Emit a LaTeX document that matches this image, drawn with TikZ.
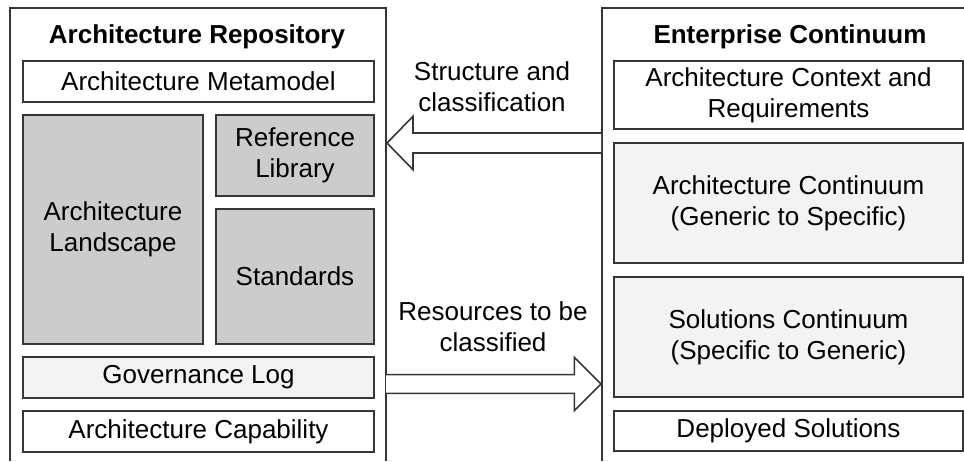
\documentclass[tikz,border=0pt]{standalone}
\usepackage{fontspec}
\setmainfont{Liberation Sans}
\definecolor{edge}{HTML}{363636}
\definecolor{darkfill}{HTML}{CCCCCC}
\definecolor{lightfill}{HTML}{F3F3F3}
\tikzset{
  x=0.75pt, y=-0.75pt,
  every node/.style={font=\fontsize{19.5}{23}\selectfont, text=black},
  panel/.style={draw=edge, line width=1.4pt},
  box/.style={draw=edge, line width=1.2pt, fill=white, inner sep=0pt, align=center},
  darkbox/.style={box, fill=darkfill},
  lightbox/.style={box, fill=lightfill},
  blockarrow/.style={draw=edge, line width=1.2pt, fill=white, line join=miter},
  title/.style={font=\fontsize{19.5}{23}\selectfont\bfseries, anchor=base},
  caption/.style={align=center, inner sep=0pt}
}
\begin{document}
\begin{tikzpicture}
\useasboundingbox (0,0) rectangle (964,461);
\fill[white] (0,0) rectangle (964,461);

% Architecture Repository panel (open at the bottom)
\draw[panel] (10,461) -- (10,8) -- (386,8) -- (386,461);
\node[title] (repo) at (197,43.5) {Architecture Repository};
\node[box, minimum width=351*0.75pt, minimum height=41*0.75pt] (meta) at (198.5,81.5) {Architecture Metamodel};
\node[darkbox, minimum width=180*0.75pt, minimum height=229*0.75pt] (land) at (113,229.5) {Architecture\\Landscape};
\node[darkbox, minimum width=158*0.75pt, minimum height=81*0.75pt] (reflib) at (295,155.5) {Reference\\Library};
\node[darkbox, minimum width=158*0.75pt, minimum height=135*0.75pt] (std) at (295,276.5) {Standards};
\node[lightbox, minimum width=351*0.75pt, minimum height=41*0.75pt] (gov) at (198.5,377.5) {Governance Log};
\node[box, minimum width=351*0.75pt, minimum height=41*0.75pt] (cap) at (198.5,431.5) {Architecture Capability};

% Enterprise Continuum panel (open at the bottom and on the right)
\draw[panel] (602,461) -- (602,8) -- (964,8);
\node[title] (ec) at (790,43.5) {Enterprise Continuum};
\node[box, minimum width=349*0.75pt, minimum height=68*0.75pt] (ctx) at (788.5,95) {Architecture Context and\\Requirements};
\node[lightbox, minimum width=349*0.75pt, minimum height=120*0.75pt] (acont) at (788.5,203) {Architecture Continuum\\(Generic to Specific)};
\node[lightbox, minimum width=349*0.75pt, minimum height=120*0.75pt] (scont) at (788.5,337) {Solutions Continuum\\(Specific to Generic)};
\node[box, minimum width=349*0.75pt, minimum height=40*0.75pt] (dep) at (788.5,431) {Deployed Solutions};

% anchor points of the block arrows on the panel borders
\coordinate (ecA) at (601,143);
\coordinate (repoA) at (387,143);
\coordinate (repoB) at (386,384);
\coordinate (ecB) at (601,384);

% structure and classification: Enterprise Continuum -> Repository
\draw[blockarrow] ([yshift=7.5pt]ecA) -- ([xshift=19.5pt,yshift=7.5pt]repoA)
  -- ([xshift=19.5pt,yshift=20pt]repoA) -- (repoA)
  -- ([xshift=19.5pt,yshift=-20pt]repoA) -- ([xshift=19.5pt,yshift=-7.5pt]repoA)
  -- ([yshift=-7.5pt]ecA);
\node[caption] (lblA) at (492,87) {Structure and\\classification};

% resources to be classified: Repository -> Enterprise Continuum
\draw[blockarrow] ([yshift=7pt]repoB) -- ([xshift=-20pt,yshift=7pt]ecB)
  -- ([xshift=-20pt,yshift=20pt]ecB) -- (ecB)
  -- ([xshift=-20pt,yshift=-20pt]ecB) -- ([xshift=-20pt,yshift=-7pt]ecB)
  -- ([yshift=-7pt]repoB);
\node[caption] (lblB) at (493,327) {Resources to be\\classified};
\end{tikzpicture}
\end{document}
